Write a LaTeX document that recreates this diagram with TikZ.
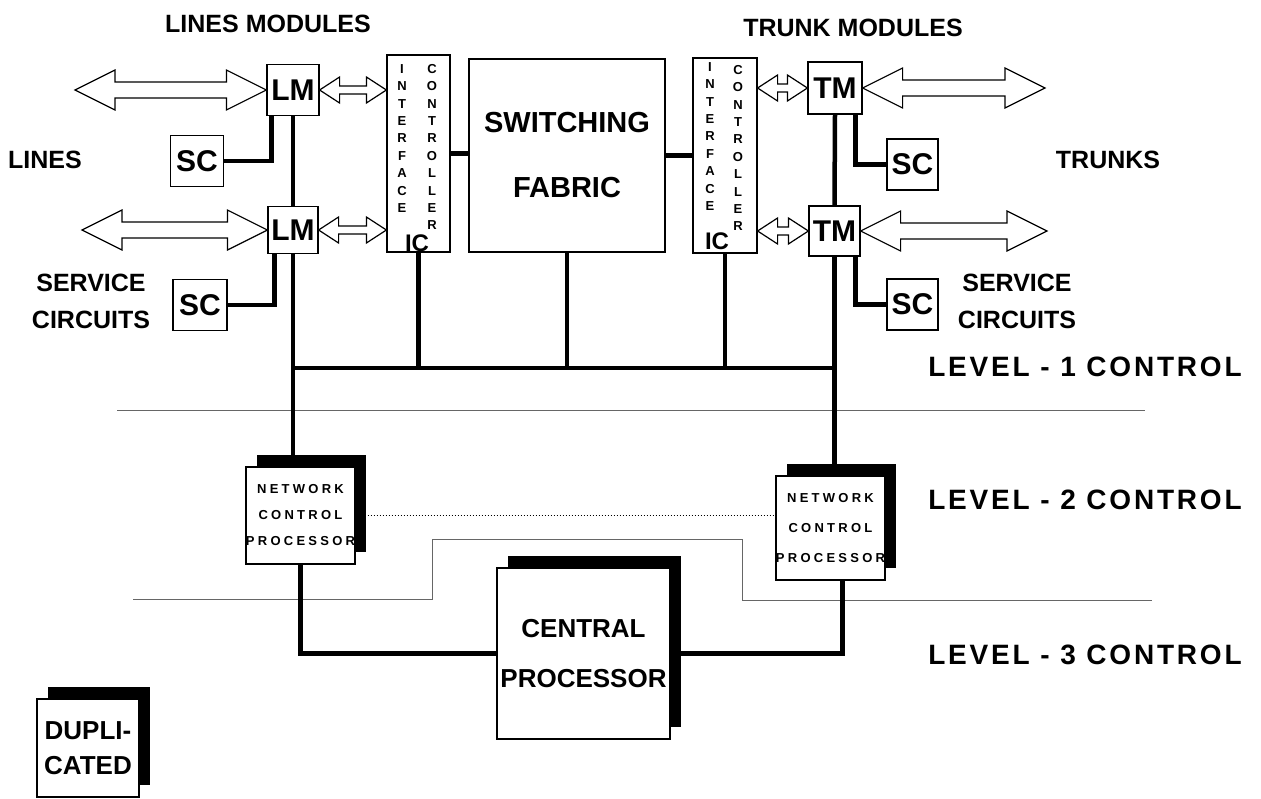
\documentclass[tikz,border=0pt]{standalone}
\usepackage{fontspec}
\setmainfont{Liberation Sans}
\newfontfamily\widefont[LetterSpace=10]{Liberation Sans}
\newfontfamily\procfont[LetterSpace=25]{Liberation Sans}
\usetikzlibrary{calc,shadows}

% hollow double arrow: left end, right end, head length, head half, shaft half
\newcommand{\fatarrow}[5]{%
  \draw[line width=1.2pt, fill=white]
    (#1) -- ($(#1)+(#3,-#4)$) -- ($(#1)+(#3,-#5)$) -- ($(#2)+(-#3,-#5)$)
    -- ($(#2)+(-#3,-#4)$) -- (#2) -- ($(#2)+(-#3,#4)$) -- ($(#2)+(-#3,#5)$)
    -- ($(#1)+(#3,#5)$) -- ($(#1)+(#3,#4)$) -- cycle;}

\begin{document}
\begin{tikzpicture}[x=1pt, y=-1pt,
    mod/.style={draw, fill=white, line width=1.2pt, inner sep=0pt, align=center, font=\bfseries\fontsize{30}{30}\selectfont},
    dup/.style={general shadow={fill=black, shadow xshift=11pt, shadow yshift=12pt}},
    bus/.style={line width=4.5pt},
    sep/.style={line width=1pt, black!60},
    lbl/.style={font=\bfseries\fontsize{25}{37}\selectfont, align=center, inner sep=0pt},
    lvl/.style={font=\widefont\bfseries\fontsize{28}{28}\selectfont, inner sep=0pt},
    vlet/.style={font=\bfseries\fontsize{13}{17.4}\selectfont, align=center, inner sep=0pt}
]
\path[fill=white, use as bounding box] (0,0) rectangle (1261,798);

% Headings and side labels
\node[lbl] (lmhead) at (268,24) {LINES MODULES};
\node[lbl] (tmhead) at (853,28) {TRUNK MODULES};
\node[lbl] (lines) at (45,160) {LINES};
\node[lbl] (svcL) at (91,301) {SERVICE\\CIRCUITS};
\node[lbl] (trunks) at (1108,160) {TRUNKS};
\node[lbl] (svcR) at (1017,301) {SERVICE\\CIRCUITS};
\node[lvl] (lvl1) at (1085,367) {LEVEL - 1 CONTROL};
\node[lvl] (lvl2) at (1085,500) {LEVEL - 2 CONTROL};
\node[lvl] (lvl3) at (1085,655) {LEVEL - 3 CONTROL};

% Level separators
\draw[sep] (117,410) -- (1145,410);
\draw[sep] (133,599) -- (432,599) -- (432,539) -- (742,539) -- (742,600) -- (1152,600);

% Line modules
\node[mod, minimum width=52pt, minimum height=51pt] (lm1) at (293,90) {LM};
\node[mod, minimum width=50pt, minimum height=47pt] (lm2) at (293,230) {LM};
\node[mod, minimum width=53pt, minimum height=51pt] (sc1) at (197,161) {SC};
\node[mod, minimum width=54pt, minimum height=51pt] (sc2) at (200,305) {SC};

% Interface controllers and switching fabric
\node[mod, minimum width=63pt, minimum height=197pt] (ic1) at (418.5,153.5) {};
\node[mod, minimum width=196pt, minimum height=193pt, font=\bfseries\fontsize{29}{65}\selectfont] (sf) at (567,155.5) {SWITCHING\\FABRIC};
\node[mod, minimum width=64pt, minimum height=195pt] (ic2) at (725,155.5) {};
\node[vlet] (ic1a) at (402,138.5) {I\\N\\T\\E\\R\\F\\A\\C\\E};
\node[vlet] (ic1b) at (432,147) {C\\O\\N\\T\\R\\O\\L\\L\\E\\R};
\node[lbl, font=\bfseries\fontsize{24}{24}\selectfont] (ic1c) at (417,243) {IC};
\node[vlet] (ic2a) at (710,136.5) {I\\N\\T\\E\\R\\F\\A\\C\\E};
\node[vlet] (ic2b) at (738,148) {C\\O\\N\\T\\R\\O\\L\\L\\E\\R};
\node[lbl, font=\bfseries\fontsize{24}{24}\selectfont] (ic2c) at (717,241) {IC};

% Trunk modules
\node[mod, minimum width=54pt, minimum height=52pt] (tm1) at (835,88) {TM};
\node[mod, minimum width=51pt, minimum height=50pt] (tm2) at (834.5,231) {TM};
\node[mod, minimum width=51pt, minimum height=51pt] (sc3) at (912.5,164.5) {SC};
\node[mod, minimum width=51pt, minimum height=51pt] (sc4) at (912.5,304.5) {SC};

% Processors
\node[mod, dup, minimum width=99pt, minimum height=97pt, font=\procfont\bfseries\fontsize{13}{26}\selectfont] (ncp1) at (300.5,515.5) {NETWORK\\CONTROL\\PROCESSOR};
\node[mod, dup, minimum width=107pt, minimum height=104pt, font=\procfont\bfseries\fontsize{13}{30}\selectfont] (ncp2) at (830.5,528) {NETWORK\\CONTROL\\PROCESSOR};
\node[mod, dup, minimum width=173pt, minimum height=171pt, font=\bfseries\fontsize{26}{50}\selectfont] (cp) at (583.5,653.5) {CENTRAL\\PROCESSOR};
\node[mod, dup, minimum width=102pt, minimum height=98pt, font=\bfseries\fontsize{26}{35}\selectfont] (dupkey) at (88,748) {DUPLI-\\CATED};

% Hollow arrows
\coordinate (lin1) at (lm1.west -| 75,0);
\coordinate (lin2) at (lm2.west -| 82,0);
\coordinate (ic1in1) at (lm1.east -| ic1.west);
\coordinate (ic1in2) at (lm2.east -| ic1.west);
\coordinate (ic2out1) at (tm1.west -| ic2.east);
\coordinate (ic2out2) at (tm2.west -| ic2.east);
\coordinate (tout1) at (tm1.east -| 1045,0);
\coordinate (tout2) at (tm2.east -| 1047,0);
\fatarrow{lin1}{lm1.west}{40}{20}{8}
\fatarrow{lin2}{lm2.west}{40}{20}{8}
\fatarrow{lm1.east}{ic1in1}{20}{13}{4}
\fatarrow{lm2.east}{ic1in2}{20}{13}{4}
\fatarrow{ic2out1}{tm1.west}{20}{13}{4}
\fatarrow{ic2out2}{tm2.west}{20}{13}{4}
\fatarrow{tm1.east}{tout1}{40}{20}{8}
\fatarrow{tm2.east}{tout2}{40}{20}{8}

% Level 1 connections
\draw[bus] (lm1.south) -- (lm2.north);
\draw[bus] (lm2.south) -- (lm2.south |- ncp1.north);
\draw[bus] (tm1.south) -- (tm2.north);
\draw[bus] (tm2.south) -- (tm2.south |- ncp2.north);
\coordinate (busL) at (lm2.south |- 0,368);
\coordinate (busR) at (tm2.south |- 0,368);
\draw[bus] (busL) -- (busR);
\draw[bus] (ic1.south) -- (ic1.south |- busL);
\draw[bus] (sf.south) -- (sf.south |- busL);
\draw[bus] (ic2.south) -- (ic2.south |- busL);
\draw[bus] (ic1.east) -- (ic1.east -| sf.west);
\draw[bus] (sf.east) -- (sf.east -| ic2.west);
\draw[bus] (sc1.east) -| ($(lm1.south west)+(5,0)$);
\draw[bus] (sc2.east) -| ($(lm2.south west)+(7,0)$);
\draw[bus] (sc3.west) -| ($(tm1.south east)+(-7,0)$);
\draw[bus] (sc4.west) -| ($(tm2.south east)+(-5,0)$);

% Level 2 and 3 connections
\draw[dotted, line width=1pt] (ncp1.east) -- (ncp1.east -| ncp2.west);
\draw[bus] (ncp1.south) |- (cp.west);
\draw[bus] ($(ncp2.south)+(12,0)$) |- (cp.east);

\end{tikzpicture}
\end{document}
